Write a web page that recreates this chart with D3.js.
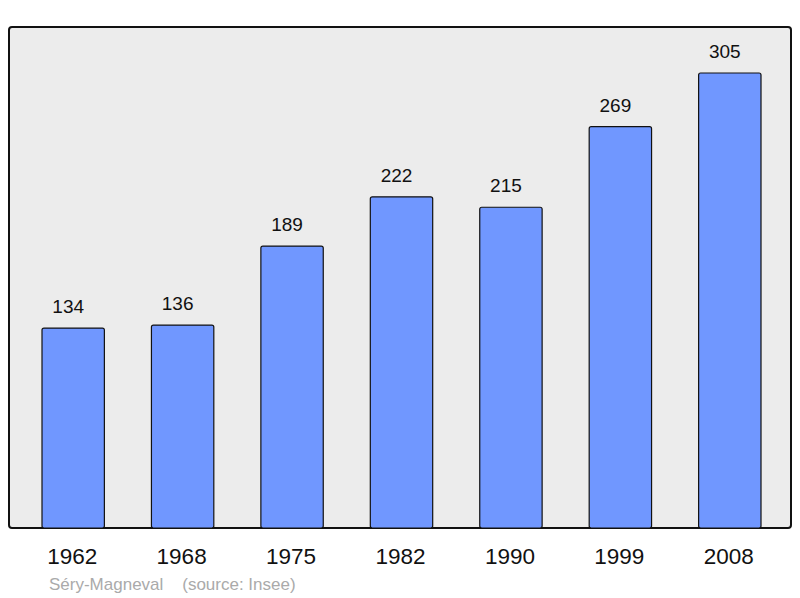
<!DOCTYPE html>
<html><head><meta charset="utf-8">
<script src="https://cdn.jsdelivr.net/npm/d3@7"></script>
<style>body{margin:0;background:#fff}svg{display:block}</style>
</head><body>
<script>
const years = ["1962","1968","1975","1982","1990","1999","2008"];
const population = [134,136,189,222,215,269,305];
const footer = "Séry-Magneval    (source: Insee)";

const W=800,H=598;
const svg=d3.select("body").append("svg").attr("width",W).attr("height",H);
svg.append("rect").attr("x",9).attr("y",27).attr("width",782).attr("height",501)
  .attr("rx",3).attr("fill","#ececec").attr("stroke","#111").attr("stroke-width",2);

const x=d3.scaleBand().domain(years).range([42,761]).paddingInner(0.43).paddingOuter(0);
const y=d3.scaleLinear().domain([0,305]).range([528,73]);

svg.selectAll("rect.bar").data(population).enter().append("rect").attr("class","bar")
  .attr("x",(d,i)=>x(years[i])).attr("y",d=>y(d))
  .attr("width",x.bandwidth()).attr("height",d=>y(0)-y(d))
  .attr("rx",2).attr("fill","#7097ff").attr("stroke","#111").attr("stroke-width",1.2);

svg.selectAll("text.val").data(population).enter().append("text").attr("class","val")
  .attr("x",(d,i)=>x(years[i])+x.bandwidth()/2-5).attr("y",d=>y(d)-15)
  .attr("text-anchor","middle").attr("font-family","Liberation Sans, Arial, sans-serif")
  .attr("font-size",19).attr("fill","#111").text(d=>d);

svg.selectAll("text.yr").data(years).enter().append("text").attr("class","yr")
  .attr("x",d=>x(d)+x.bandwidth()/2-1).attr("y",564)
  .attr("text-anchor","middle").attr("font-family","Liberation Sans, Arial, sans-serif")
  .attr("font-size",22.5).attr("fill","#111").text(d=>d);

svg.append("text").attr("x",49).attr("y",590).attr("xml:space","preserve")
  .attr("font-family","Liberation Sans, Arial, sans-serif").attr("font-size",17)
  .attr("fill","#aaa").style("white-space","pre").text(footer);
</script>
</body></html>
